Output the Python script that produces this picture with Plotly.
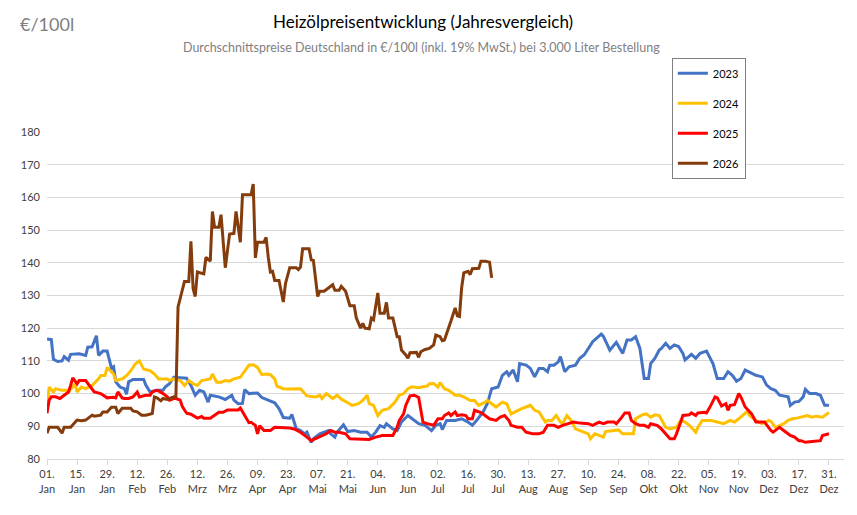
import plotly.graph_objects as go

# Tag im Jahr (0 = 01. Jan) und Preis in €/100l
tage_2023 = [0, 2, 3, 5, 7, 8, 10, 11, 15, 18, 19, 21, 23, 24, 26, 28, 30, 31, 32, 34, 36, 37, 38, 40,
             45, 46, 48, 51, 54, 55, 57, 59, 65, 67, 69, 71, 73, 75, 76, 80, 83, 86, 87, 89, 91, 92,
             94, 98, 100, 103, 106, 108, 110, 113, 114, 116, 118, 120, 121, 123, 124, 127, 129, 131,
             132, 134, 135, 138, 140, 143, 146, 149, 151, 153, 155, 157, 158, 161, 163, 165, 168, 172,
             173, 176, 179, 181, 183, 184, 186, 190, 193, 196, 198, 200, 203, 205, 207, 210, 212, 214,
             215, 217, 219, 220, 223, 225, 227, 229, 231, 233, 234, 236, 238, 239, 241, 243, 246, 248,
             250, 252, 254, 258, 259, 262, 264, 265, 268, 270, 272, 274, 276, 278, 280, 281, 283, 285,
             286, 288, 290, 292, 294, 296, 297, 300, 302, 304, 307, 308, 310, 312, 315, 317, 319, 321,
             323, 325, 328, 330, 333, 335, 337, 339, 341, 343, 345, 346, 348, 350, 352, 353, 355, 358,
             360, 362, 364]
preise_2023 = [116.7, 116.5, 110.5, 109.8, 110.0, 111.3, 110.2, 112.0, 112.2, 111.7, 114.2, 114.3, 117.7,
               111.7, 113.0, 113.0, 107.8, 108.2, 103.6, 102.0, 101.5, 99.8, 103.6, 104.3, 104.3, 102.6,
               100.5, 101.0, 101.0, 102.0, 103.0, 105.0, 104.7, 102.5, 99.5, 101.0, 100.5, 97.4, 99.5,
               99.0, 98.2, 99.5, 98.0, 96.9, 97.0, 101.2, 100.0, 100.2, 98.8, 98.0, 97.2, 95.4, 92.7,
               92.5, 93.6, 89.3, 88.7, 87.7, 88.2, 85.1, 86.2, 87.7, 88.2, 88.7, 87.7, 86.7, 88.2, 90.5,
               88.4, 88.7, 88.2, 88.2, 86.7, 88.2, 90.2, 89.7, 90.8, 89.2, 88.7, 91.3, 93.3, 91.3, 90.8,
               90.3, 88.7, 90.3, 90.8, 89.0, 91.8, 91.8, 92.3, 91.3, 90.3, 91.8, 94.4, 97.0, 101.5,
               102.0, 105.6, 106.7, 105.6, 107.2, 103.6, 109.2, 108.7, 107.7, 105.1, 107.7, 107.7, 106.7,
               108.7, 108.7, 109.7, 111.3, 106.7, 108.2, 108.7, 110.8, 111.8, 113.8, 115.9, 118.2, 117.5,
               113.3, 114.9, 115.7, 112.3, 116.4, 116.4, 117.4, 113.8, 104.6, 104.6, 109.2, 110.8, 113.3,
               113.8, 115.4, 113.8, 114.9, 114.4, 112.3, 110.3, 112.0, 110.8, 112.3, 113.0, 111.8, 109.2,
               104.6, 104.6, 106.7, 105.6, 103.8, 104.6, 107.2, 106.2, 105.6, 105.1, 102.6, 101.5, 101.0,
               99.5, 99.3, 99.0, 96.4, 97.4, 97.6, 99.0, 101.3, 100.0, 100.0, 99.5, 96.4, 96.4]

tage_2024 = [0, 1, 3, 4, 7, 9, 10, 13, 14, 16, 18, 21, 24, 25, 27, 28, 31, 32, 35, 37, 39, 41, 42, 43,
             45, 48, 50, 52, 56, 57, 59, 62, 64, 66, 68, 70, 72, 76, 77, 79, 81, 83, 85, 87, 90, 92,
             94, 96, 98, 100, 102, 104, 106, 107, 110, 112, 116, 118, 121, 124, 125, 127, 128, 130,
             132, 133, 135, 137, 140, 142, 145, 147, 149, 150, 152, 154, 156, 159, 162, 164, 166, 168,
             170, 173, 175, 177, 178, 180, 182, 183, 185, 187, 190, 192, 194, 197, 199, 201, 204, 205,
             207, 209, 212, 214, 216, 219, 221, 223, 225, 227, 229, 232, 233, 235, 237, 239, 240, 242,
             244, 246, 250, 252, 253, 255, 257, 259, 260, 264, 266, 268, 271, 273, 274, 277, 279, 281,
             283, 285, 288, 290, 293, 295, 297, 299, 302, 303, 305, 309, 312, 315, 318, 320, 322, 324,
             326, 327, 329, 331, 333, 336, 337, 339, 341, 343, 345, 347, 349, 351, 354, 356, 358, 361,
             364]
preise_2024 = [96.0, 102.0, 100.5, 101.5, 101.0, 101.0, 100.5, 103.0, 100.5, 102.0, 101.5, 102.5, 104.5,
               105.5, 105.5, 108.0, 106.0, 104.0, 104.5, 105.5, 107.0, 109.0, 109.5, 110.0, 107.5, 107.0,
               106.0, 104.5, 104.5, 104.0, 104.5, 104.0, 102.5, 104.0, 103.0, 102.5, 104.0, 104.5, 106.0,
               103.5, 103.5, 104.0, 103.8, 104.5, 105.0, 107.0, 108.7, 108.8, 108.0, 105.8, 106.0, 105.8,
               104.5, 102.3, 101.5, 101.4, 101.5, 101.5, 99.3, 99.0, 99.0, 99.5, 98.5, 100.0, 99.0, 98.5,
               99.5, 98.3, 97.2, 96.4, 96.9, 97.9, 99.5, 96.9, 96.4, 93.3, 94.9, 95.4, 97.4, 99.5, 100.0,
               101.5, 102.1, 101.8, 102.1, 102.3, 103.0, 103.1, 102.0, 103.4, 101.5, 101.0, 99.5, 99.5,
               99.0, 97.9, 97.9, 96.4, 97.4, 97.9, 96.9, 95.9, 97.4, 96.9, 93.8, 94.9, 95.4, 95.9, 96.4,
               94.9, 94.4, 91.3, 91.8, 91.8, 93.3, 91.3, 90.8, 93.3, 91.8, 89.2, 88.2, 87.7, 86.2, 87.7,
               87.2, 86.7, 88.4, 88.7, 88.9, 87.7, 87.7, 87.7, 92.3, 93.5, 93.8, 92.8, 93.5, 93.3, 89.7,
               89.2, 89.7, 91.8, 91.3, 90.3, 88.2, 89.7, 91.8, 91.8, 91.3, 90.8, 91.8, 91.3, 92.3, 93.5,
               94.6, 93.3, 92.3, 91.3, 90.8, 91.8, 91.5, 89.7, 90.2, 90.8, 91.8, 92.3, 92.5, 92.8, 93.3,
               92.8, 93.1, 92.8, 94.2]

tage_2025 = [0, 1, 2, 4, 6, 8, 9, 10, 11, 12, 14, 15, 18, 21, 22, 25, 26, 28, 31, 32, 33, 35, 36, 38,
             40, 42, 43, 46, 48, 49, 51, 52, 54, 56, 57, 59, 60, 62, 63, 65, 67, 70, 72, 73, 76, 78,
             80, 82, 84, 87, 89, 90, 92, 94, 95, 97, 98, 99, 101, 104, 106, 108, 112, 113, 115, 118,
             121, 123, 125, 128, 130, 132, 134, 136, 139, 141, 144, 147, 150, 153, 156, 158, 161, 163,
             164, 166, 167, 169, 171, 173, 175, 177, 180, 182, 184, 185, 187, 188, 190, 191, 193, 195,
             196, 198, 199, 202, 204, 206, 209, 211, 213, 215, 216, 219, 221, 223, 226, 229, 231, 233,
             236, 238, 240, 243, 245, 247, 250, 252, 254, 257, 259, 261, 264, 265, 267, 269, 271, 272,
             274, 276, 278, 280, 281, 284, 286, 288, 290, 292, 293, 295, 296, 299, 300, 302, 303, 306,
             307, 309, 311, 312, 314, 316, 317, 318, 320, 322, 323, 325, 326, 328, 330, 332, 334, 337,
             338, 340, 341, 344, 346, 348, 350, 351, 353, 355, 358, 360, 361, 364]
preise_2025 = [94.0, 98.0, 99.0, 99.0, 98.5, 99.5, 100.0, 100.5, 102.5, 104.8, 103.0, 104.0, 104.0, 101.5,
               100.5, 100.0, 99.5, 98.7, 98.9, 98.7, 100.5, 98.7, 98.5, 98.5, 99.0, 100.5, 99.0, 99.5,
               99.5, 100.5, 101.0, 100.8, 100.0, 99.0, 98.0, 98.5, 98.5, 98.0, 96.0, 94.0, 93.7, 92.5,
               93.0, 92.5, 92.5, 93.3, 94.3, 94.3, 95.0, 95.0, 95.0, 95.6, 93.3, 91.1, 91.2, 90.3, 87.7,
               90.2, 88.7, 88.7, 89.7, 89.7, 89.7, 89.5, 89.2, 88.2, 86.7, 85.6, 86.2, 87.2, 87.7, 88.7,
               88.2, 88.2, 87.7, 86.2, 86.2, 86.2, 86.0, 86.7, 87.2, 87.2, 87.2, 89.7, 91.8, 93.8, 96.4,
               99.3, 99.5, 98.8, 91.3, 90.8, 90.3, 92.3, 92.3, 93.3, 94.1, 93.3, 94.4, 93.3, 93.5, 93.3,
               92.3, 92.3, 94.9, 94.2, 93.3, 92.3, 91.8, 92.8, 93.3, 91.8, 90.3, 89.7, 89.7, 88.2, 87.7,
               87.7, 88.2, 90.3, 90.3, 89.7, 90.3, 90.8, 91.3, 91.1, 91.0, 90.8, 90.3, 91.3, 90.8, 91.3,
               91.3, 90.8, 92.3, 94.1, 94.1, 91.8, 90.8, 90.3, 90.3, 89.7, 90.8, 90.3, 89.2, 87.7, 86.2,
               86.2, 87.7, 91.3, 93.3, 93.5, 94.1, 93.3, 94.1, 94.3, 94.1, 96.4, 99.0, 98.7, 96.2, 96.9,
               94.9, 96.4, 96.6, 100.0, 99.0, 95.9, 95.2, 93.8, 91.3, 91.3, 91.3, 88.7, 88.2, 89.2, 89.7,
               88.2, 87.2, 86.7, 85.6, 85.6, 85.1, 85.3, 85.6, 85.6, 87.2, 87.7]

tage_2026 = [0, 1, 3, 5, 7, 8, 11, 12, 14, 16, 18, 21, 22, 25, 26, 28, 30, 32, 33, 35, 39, 40, 42, 44,
             46, 49, 50, 51, 53, 54, 56, 59, 60, 61, 63, 64, 66, 67, 68, 69, 70, 73, 74, 76, 77, 78,
             80, 81, 83, 84, 85, 87, 88, 90, 91, 95, 96, 97, 98, 101, 102, 103, 104, 105, 106, 108,
             110, 111, 113, 116, 117, 118, 119, 122, 123, 124, 126, 127, 129, 131, 133, 134, 136, 137,
             139, 141, 143, 144, 146, 147, 148, 150, 151, 152, 154, 155, 157, 158, 159, 161, 163, 164,
             165, 167, 168, 169, 172, 173, 174, 176, 178, 180, 181, 183, 184, 185, 187, 188, 190, 191,
             192, 193, 194, 196, 197, 198, 201, 202, 204, 206, 207]
preise_2026 = [87.9, 89.7, 89.7, 89.7, 87.9, 89.7, 89.7, 90.4, 91.9, 91.7, 91.9, 93.4, 93.1, 93.4, 94.4,
               94.4, 95.8, 95.8, 93.9, 95.5, 95.5, 94.7, 94.4, 93.4, 93.4, 93.9, 99.0, 98.8, 97.8, 98.5,
               98.2, 99.0, 99.0, 126.5, 131.6, 134.3, 134.3, 146.6, 132.1, 129.7, 137.2, 136.6, 141.7,
               140.5, 155.7, 150.9, 150.9, 154.7, 138.5, 143.8, 148.8, 149.0, 155.7, 146.3, 160.8, 160.8,
               164.1, 141.5, 146.3, 146.3, 147.8, 141.7, 137.2, 137.4, 134.6, 134.6, 128.0, 133.6, 138.5,
               138.5, 137.9, 138.7, 144.3, 144.3, 140.9, 140.7, 129.7, 131.3, 131.3, 132.3, 133.3, 131.6,
               131.6, 132.8, 131.3, 126.9, 126.9, 123.1, 120.0, 121.5, 120.0, 119.8, 123.1, 122.6, 130.8,
               124.6, 124.6, 127.9, 123.1, 123.1, 117.4, 117.4, 113.3, 111.8, 110.8, 112.5, 112.6, 111.1,
               112.8, 113.5, 113.8, 114.9, 117.9, 117.4, 116.2, 116.4, 120.0, 122.1, 126.2, 123.8, 123.6,
               132.3, 136.9, 137.4, 136.4, 138.2, 138.3, 140.5, 140.5, 140.2, 135.4]

jahre = ["2023", "2024", "2025", "2026"]
farben = ["#4472C4", "#FFC000", "#FF0000", "#843C0C"]

tick_tage = list(range(0, 365, 14))
tick_texte = ["01.<br>Jan", "15.<br>Jan", "29.<br>Jan", "12.<br>Feb", "26.<br>Feb", "12.<br>Mrz",
              "26.<br>Mrz", "09.<br>Apr", "23.<br>Apr", "07.<br>Mai", "21.<br>Mai", "04.<br>Jun",
              "18.<br>Jun", "02.<br>Jul", "16.<br>Jul", "30.<br>Jul", "13.<br>Aug", "27.<br>Aug",
              "10.<br>Sep", "24.<br>Sep", "08.<br>Okt", "22.<br>Okt", "05.<br>Nov", "19.<br>Nov",
              "03.<br>Dez", "17.<br>Dez", "31.<br>Dez"]

serien = [(tage_2023, preise_2023), (tage_2024, preise_2024),
          (tage_2025, preise_2025), (tage_2026, preise_2026)]

fig = go.Figure()
for (tage, preise), jahr, farbe in zip(serien, jahre, farben):
    fig.add_trace(go.Scatter(x=tage, y=preise, name=jahr, mode="lines",
                             legendgroup=jahr,
                             line=dict(color=farbe, width=3)))

schrift = "Lato, Carlito, Liberation Sans, sans-serif"

# die Seite hat 8px Rand, daher etwas kleiner
fig.update_layout(
    width=849, height=507,
    margin=dict(l=39, r=13, t=124, b=56),
    plot_bgcolor="white", paper_bgcolor="white",
    font=dict(family=schrift, size=11, color="#404040"),
    showlegend=True,
    legend=dict(x=0.784, y=1.227, xanchor="left", yanchor="top",
                bgcolor="white", bordercolor="#7f7f7f", borderwidth=1,
                tracegroupgap=11, font=dict(size=11, color="#000000"),
                itemwidth=30),
    annotations=[
        dict(text="Heizölpreisentwicklung (Jahresvergleich)", xref="paper", yref="paper",
             x=0.472, y=1.337, showarrow=False, xanchor="center", yanchor="middle",
             font=dict(size=17, color="#000000")),
        dict(text="Durchschnittspreise Deutschland in €/100l (inkl. 19% MwSt.) bei 3.000 Liter Bestellung",
             xref="paper", yref="paper", x=0.470, y=1.258, showarrow=False,
             xanchor="center", yanchor="middle", font=dict(size=12.5, color="#7f7f7f")),
        dict(text="€/100l", xref="paper", yref="paper", x=-0.037, y=1.331, showarrow=False,
             xanchor="left", yanchor="middle", font=dict(size=18, color="#7f7f7f")),
    ],
)

fig.update_xaxes(range=[0, 371], tickvals=tick_tage, ticktext=tick_texte,
                 showgrid=False, zeroline=False, showline=True, linecolor="#d9d9d9",
                 ticks="outside", ticklen=5, tickcolor="#d9d9d9",
                 tickfont=dict(size=11, color="#404040"))
fig.update_yaxes(range=[80, 180], dtick=10, showgrid=True, gridcolor="#d9d9d9",
                 zeroline=False, showline=False, ticks="", ticklabelstandoff=6,
                 tickfont=dict(size=11, color="#404040"))

fig.write_html("out.html")
